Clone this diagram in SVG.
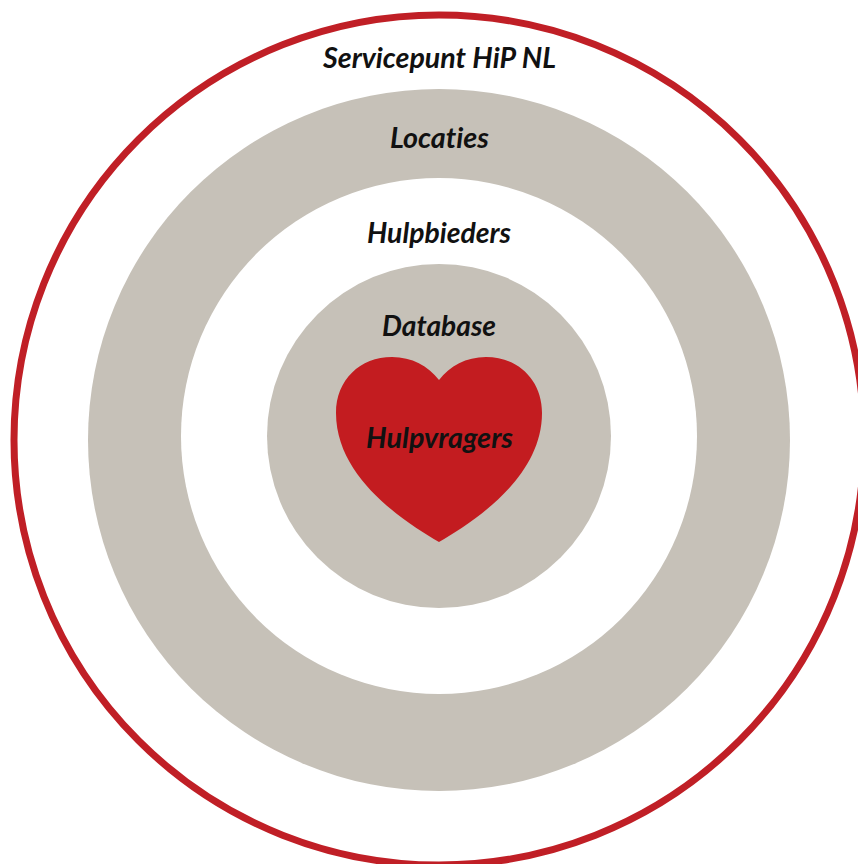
<svg xmlns="http://www.w3.org/2000/svg" width="858" height="864" viewBox="0 0 858 864">
<style>
.t{font-family:"Lato","Open Sans","Liberation Sans",sans-serif;font-style:italic;font-weight:700;font-size:29px;fill:#111;text-anchor:middle;font-variant-ligatures:none}
.g{fill:#c6c1b8}
</style>
<rect width="858" height="864" fill="#fff"/>
<g id="servicepunt"><circle cx="439" cy="440" r="425" fill="#fff" stroke="#c01f26" stroke-width="7"/><text class="t" x="439.500" y="68" textLength="233" lengthAdjust="spacingAndGlyphs">Servicepunt HiP NL</text></g>
<g id="locaties"><circle class="g" cx="439" cy="440" r="351"/><text class="t" x="439.500" y="148" textLength="99" lengthAdjust="spacingAndGlyphs">Locaties</text></g>
<g id="hulpbieders"><circle cx="439" cy="436" r="258" fill="#fff"/><text class="t" x="439" y="243" textLength="144" lengthAdjust="spacingAndGlyphs">Hulpbieders</text></g>
<g id="database"><circle class="g" cx="439" cy="436" r="172"/><text class="t" x="439" y="336" textLength="114" lengthAdjust="spacingAndGlyphs">Database</text></g>
<g id="hulpvragers"><path d="M439 542C405 522 336 478 336 413C336 380 360 357 392 357C412 357 428 366 439 380C450 366 466 357 486 357C518 357 542 380 542 413C542 478 473 522 439 542Z" fill="#c31c20"/><text class="t" x="439.500" y="448" textLength="147" lengthAdjust="spacingAndGlyphs">Hulpvragers</text></g>
</svg>
